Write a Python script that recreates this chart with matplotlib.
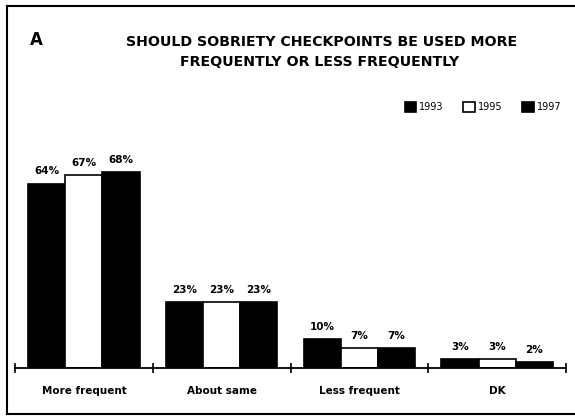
import numpy as np
import matplotlib
matplotlib.use("Agg")
import matplotlib.pyplot as plt
from matplotlib.patches import Patch
from matplotlib.lines import Line2D

# data
categories = ["More frequent", "About same", "Less frequent", "DK"]
years = ["1993", "1995", "1997"]
v1993 = [64, 23, 10, 3]
v1995 = [67, 23, 7, 3]
v1997 = [68, 23, 7, 2]

plt.rcParams['font.family'] = ['DejaVu Sans']

fig = plt.figure(figsize=(5.75, 4.16), dpi=100)
ax = fig.add_axes([15/575, 48/416, 551/575, 238/416])

x = np.arange(len(categories))
w = 0.27
series = [v1993, v1995, v1997]
faces = ["black", "white", "black"]
for i, vals in enumerate(series):
    pos = x + (i - 1) * w
    ax.bar(pos, vals, w, color=faces[i], edgecolor="black", linewidth=1.2)
    for p, v in zip(pos, vals):
        ax.text(p, v + 2.5, "%d%%" % v, ha="center", va="bottom",
                fontsize=7.5, fontweight="bold")

ax.set_xlim(-0.5, 3.5)
ax.set_ylim(0, 82.6)
for s in ["left", "right", "top"]:
    ax.spines[s].set_visible(False)
ax.spines["bottom"].set_linewidth(1.3)
ax.set_yticks([])
ax.set_xticks(np.arange(-0.5, 4, 1))
ax.set_xticklabels([])
ax.tick_params(axis="x", direction="inout", length=7, width=1.2)
for xi, c in zip(x, categories):
    ax.text(xi, -8, c, ha="center", va="center", fontsize=7.5, fontweight="bold")

# titles
fig.text(30/575, 1 - 40/416, "A", fontsize=12, fontweight="bold",
         ha="left", va="center")
fig.text(322/575, 1 - 42/416, "SHOULD SOBRIETY CHECKPOINTS BE USED MORE",
         fontsize=10.2, fontweight="bold", ha="center", va="center")
fig.text(320/575, 1 - 62/416, "FREQUENTLY OR LESS FREQUENTLY",
         fontsize=10.2, fontweight="bold", ha="center", va="center")

handles = [Patch(facecolor=f, edgecolor="black", linewidth=1.2) for f in faces]
fig.legend(handles, years, loc="center right", bbox_to_anchor=(565/575, 1 - 107/416),
           ncol=3, frameon=False, fontsize=7, handlelength=1.2, handleheight=1.2,
           handletextpad=0.3, columnspacing=2.0, borderaxespad=0)

# outer frame of the scanned figure
fig.add_artist(Line2D([7/575, 7/575], [1 - 414/416, 1 - 6/416], color="black", lw=1.5))
fig.add_artist(Line2D([7/575, 1], [1 - 6/416, 1 - 6/416], color="black", lw=1.5))
fig.add_artist(Line2D([7/575, 1], [1 - 414/416, 1 - 414/416], color="black", lw=1.5))

fig.savefig("out.png", dpi=100)
